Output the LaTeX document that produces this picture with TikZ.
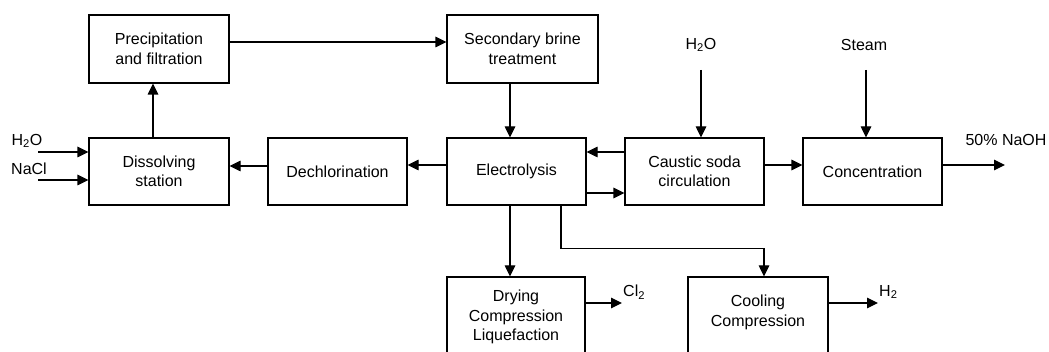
\documentclass[tikz,border=0pt]{standalone}
\usepackage{fontspec}
\setmainfont{Liberation Sans}
\usetikzlibrary{arrows.meta}
\begin{document}
\begin{tikzpicture}[x=1pt,y=-1pt,
 box/.style={draw, line width=1.1pt, inner sep=0pt, align=center, font=\fontsize{16}{19.5}\selectfont},
 lbl/.style={inner sep=0pt, align=center, font=\fontsize{16}{19.5}\selectfont},
 arr/.style={line width=1.1pt, -{Triangle[length=11pt,width=10.5pt]}}]
\useasboundingbox (0,0) rectangle (1049,352);
\clip (0,0) rectangle (1049,352);
% boxes
\node[box, minimum width=140, minimum height=68] (prec) at (159,49) {Precipitation\\and filtration};
\node[box, minimum width=151, minimum height=68] (sec) at (522.5,49) {Secondary brine\\treatment};
\node[box, minimum width=140, minimum height=67] (diss) at (159,171.5) {Dissolving\\station};
\node[box, minimum width=139, minimum height=67] (dech) at (337.5,171.5) {Dechlorination};
\node[box, minimum width=139, minimum height=67] (elec) at (516.5,171.5) {Electrolysis};
\node[box, minimum width=139, minimum height=67] (caus) at (694.5,171.5) {Caustic soda\\circulation};
\node[box, minimum width=139, minimum height=67] (conc) at (872.5,171.5) {Concentration};
\node[box, minimum width=138, minimum height=80] (dry) at (516,317) {Drying\\Compression\\Liquefaction};
\node[box, minimum width=140, minimum height=80] (cool) at (758,317) {};
\node[lbl] (cooltxt) at (758,312.5) {Cooling\\Compression};
% labels
\node[lbl] (lh2o) at (27,141) {H\textsubscript{2}O};
\node[lbl] (lnacl) at (29,169) {NaCl};
\node[lbl] (th2o) at (701,45) {H\textsubscript{2}O};
\node[lbl] (steam) at (864,45) {Steam};
\node[lbl] (naoh) at (1006,140) {50\% NaOH};
\node[lbl, anchor=west] (cl2) at (623,292) {Cl\textsubscript{2}};
\node[lbl, anchor=west] (h2) at (879,292) {H\textsubscript{2}};
% free ends
\coordinate (lh2ostart) at (38,152);
\coordinate (lnaclstart) at (38,180);
\coordinate (th2ostart) at (701,70);
\coordinate (steamstart) at (866,70);
\coordinate (naohend) at (1005,165);
\coordinate (cl2end) at (622,303);
\coordinate (h2end) at (878,303);
% connectors
\draw[arr] (lh2ostart) -- (lh2ostart -| diss.west);
\draw[arr] (lnaclstart) -- (lnaclstart -| diss.west);
\draw[arr] ([xshift=-6]diss.north) -- ([xshift=-6]prec.south);
\draw[arr] ([yshift=7]prec.east) -- ([yshift=7]sec.west);
\draw[arr] ([xshift=-12.5]sec.south) -- ([xshift=-6.5]elec.north);
\draw[arr] ([yshift=6.5]elec.west) -- ([yshift=6.5]dech.east);
\draw[arr] ([yshift=5.5]dech.west) -- ([yshift=5.5]diss.east);
\draw[arr] ([yshift=19.5]caus.west) -- ([yshift=19.5]elec.east);
\draw[arr] ([yshift=-21.5]elec.east) -- ([yshift=-21.5]caus.west);
\draw[arr] ([yshift=6.5]caus.east) -- ([yshift=6.5]conc.west);
\draw[arr] ([yshift=6.5]conc.east) -- (naohend);
\draw[arr] (th2ostart) -- (th2ostart |- caus.north);
\draw[arr] (steamstart) -- (steamstart |- conc.north);
\draw[arr] ([xshift=-6.5]elec.south) -- ([xshift=-6]dry.north);
\draw[arr] ([xshift=44.5]elec.south) -- ++(0,43) -| ([xshift=6]cool.north);
\draw[arr] ([yshift=14]dry.east) -- (cl2end);
\draw[arr] ([yshift=14]cool.east) -- (h2end);
\end{tikzpicture}
\end{document}
